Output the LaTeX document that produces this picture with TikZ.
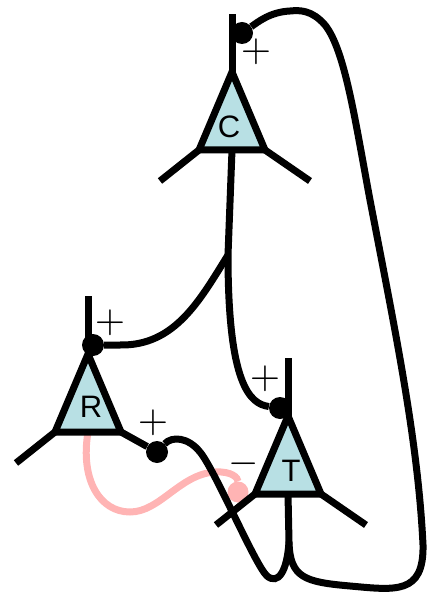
\documentclass[tikz,border=0pt]{standalone}
\usepackage{fontspec}
\setmainfont{Liberation Sans}
\usepackage{tikz}
\usetikzlibrary{
    calc
}
\definecolor{somaBlue}{RGB}{184,224,228}
\definecolor{inhPink}{RGB}{255,180,180}
\tikzset{
  soma/.style  = {draw, fill=somaBlue, line width=7pt, line join=miter},
  dend/.style  = {line width=7pt},
  axon/.style  = {line width=7pt},
  syn/.style   = {circle, fill=black, minimum size=22pt, inner sep=0pt},
  inh/.style   = {line width=7pt, inhPink},
  isyn/.style  = {circle, fill=inhPink, minimum size=21pt, inner sep=0pt},
  lbl/.style   = {inner sep=0pt, font=\fontsize{31}{31}\selectfont},
  sgn/.style   = {inner sep=0pt, scale=3.9}
}

\begin{document}
\begin{tikzpicture}[x=1pt, y=-1pt]
    \useasboundingbox (0,0) rectangle (428,593);

    % cell bodies
    \coordinate (Ca) at (232,72);
    \coordinate (Ra) at (88,354);
    \coordinate (Ta) at (288,416);
    \path (Ca) ++(-33,78) coordinate (Cl) ++(66,0) coordinate (Cr);
    \path (Ra) ++(-33,78) coordinate (Rl) ++(66,0) coordinate (Rr);
    \path (Ta) ++(-33,78) coordinate (Tl) ++(66,0) coordinate (Tr);
    \coordinate (Cb) at ($(Cl)!0.5!(Cr)$);
    \coordinate (Rb) at ($(Rl)!0.5!(Rr)$);
    \coordinate (Tb) at ($(Tl)!0.5!(Tr)$);

    % inhibitory connection R -> T
    \node[isyn] (Tinh) at (238,492) {};
    \draw[inh] (Rb) .. controls (80,480) and (100,512) .. (130,512)
      .. controls (160,512) and (180,474) .. (215,472)
      .. controls (232,471) and (238,478) .. (Tinh);

    \draw[soma] (Ca) -- (Cl) -- (Cr) -- cycle;
    \draw[soma] (Ra) -- (Rl) -- (Rr) -- cycle;
    \draw[soma] (Ta) -- (Tl) -- (Tr) -- cycle;

    % dendrites
    \draw[dend] (Ca) -- ++(0,-58);
    \draw[dend] (Cl) -- ++(-39,31);
    \draw[dend] (Cr) -- ++(45,31);
    \draw[dend] (Ra) -- ++(0,-58);
    \draw[dend] (Rl) -- ++(-39,31);
    \draw[dend] (Ta) -- ++(0,-58);
    \draw[dend] (Tl) -- ++(-39,31);
    \draw[dend] (Tr) -- ++(45,31);

    % synapses
    \node[syn] (Csyn)  at (242,33)  {};
    \node[syn] (Rsyn)  at (93,345)  {};
    \node[syn] (Rsyn2) at (157,452) {};
    \node[syn] (Tsyn)  at (280,408) {};
    \draw[dend] (Rr) -- (Rsyn2);

    % axon of C
    \draw[axon] (Cb) -- (228,255) coordinate (Cfork)
      .. controls (228,385) and (250,404) .. (Tsyn);
    \draw[axon] (Cfork) .. controls (200,300) and (175,346) .. (120,345)
      -- (Rsyn);

    % axon of T
    \draw[axon] (Tb) -- (289,542) coordinate (Tfork);
    \draw[axon] (Tfork) .. controls (287,572) and (278,585) .. (267,576)
      .. controls (255,565) and (215,470) .. (200,452)
      .. controls (188,437) and (172,436) .. (Rsyn2);
    \draw[axon] (Tfork) .. controls (290,578) and (305,582) .. (350,586)
      .. controls (395,590) and (424,595) .. (423,545)
      .. controls (418,440) and (395,330) .. (370,200)
      .. controls (355,120) and (345,50) .. (325,25)
      .. controls (312,10) and (300,10) .. (290,11)
      .. controls (270,12) and (258,22) .. (Csyn);

    % labels
    \node[lbl] (C) at (229,127) {C};
    \node[lbl] (R) at (91,407)  {R};
    \node[lbl] (T) at (291,471) {T};
    \node[sgn] (Cplus)  at (256,52)  {$+$};
    \node[sgn] (Rplus)  at (110,323) {$+$};
    \node[sgn] (Rplus2) at (153,423) {$+$};
    \node[sgn] (Tplus)  at (265,379) {$+$};
    \node[sgn] (Tminus) at (244,464) {$-$};
\end{tikzpicture}
\end{document}
